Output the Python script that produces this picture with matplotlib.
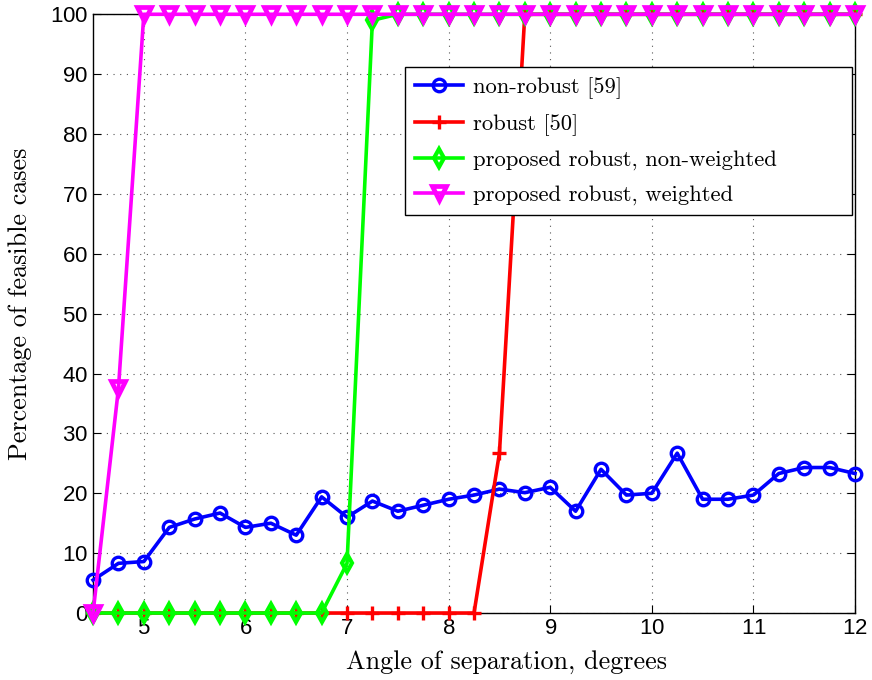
import numpy as np
import matplotlib
matplotlib.use('Agg')
import matplotlib.pyplot as plt

angles = np.arange(4.5, 12.01, 0.25)

non_robust = [5.5, 8.3, 8.6, 14.3, 15.7, 16.7, 14.3, 15.0, 13.0, 19.4,
              16.0, 18.7, 17.0, 18.0, 19.0, 19.7, 20.7, 20.1, 21.0, 17.0,
              24.0, 19.7, 20.0, 26.7, 19.0, 19.0, 19.7, 23.3, 24.3, 24.3, 23.3]
robust = [0] * 16 + [26.7] + [100] * 14
proposed_nw = [0] * 10 + [8.3, 99.0] + [100] * 19
proposed_w = [0, 37.5] + [100] * 29

serif = 'cmr10'
plt.rcParams['axes.formatter.use_mathtext'] = True

fig = plt.figure(figsize=(8.72, 6.8), dpi=100)
ax = fig.add_axes([0.1067, 0.0985, 0.8738, 0.8805])

lw = 2.6
ax.plot(angles, non_robust, '-o', color='#0000ff', lw=lw, ms=9, mfc='none', mew=2.4,
        label='non-robust [59]', clip_on=False, zorder=3)
ax.plot(angles, robust, '-+', color='#ff0000', lw=lw, ms=10, mew=2.4,
        label='robust [50]', clip_on=False, zorder=3)
ax.plot(angles, proposed_nw, '-d', color='#00ff00', lw=lw, ms=9, mfc='none', mew=3.0,
        label='proposed robust, non-weighted', clip_on=False, zorder=3)
ax.plot(angles, proposed_w, '-v', color='#ff00ff', lw=lw, ms=9.5, mfc='none', mew=3.4,
        label='proposed robust, weighted', clip_on=False, zorder=3)

ax.set_xlim(4.5, 12)
ax.set_ylim(0, 100)
ax.set_xticks(range(5, 13))
ax.set_yticks(range(0, 101, 10))
ax.grid(True, ls=(0, (1, 5)), color='#555555', lw=0.8)
ax.tick_params(direction='in', top=True, right=True, labelsize=16, length=6)
for lab in ax.get_xticklabels() + ax.get_yticklabels():
    lab.set_fontfamily('Liberation Sans')
for sp in ax.spines.values():
    sp.set_linewidth(1.0)

# axis titles placed as in the exported figure
fig.text(0.581, 0.0265, 'Angle of separation, degrees', fontfamily=serif, fontsize=18.8,
         ha='center', va='center')
fig.text(0.0235, 0.553, 'Percentage of feasible cases', fontfamily=serif, fontsize=18.8,
         ha='center', va='center', rotation=90)

leg = ax.legend(loc='upper left', bbox_to_anchor=(0.4094, 0.6694, 0.5866, 0.242), mode='expand',
                prop={'family': serif, 'size': 16.3},
                fancybox=False, edgecolor='black', framealpha=1, handlelength=2.1,
                borderpad=0.45, labelspacing=0.64, handletextpad=0.45, borderaxespad=0)
leg.get_frame().set_linewidth(1.0)
leg.set_zorder(5)

fig.savefig('out.png', dpi=100)
